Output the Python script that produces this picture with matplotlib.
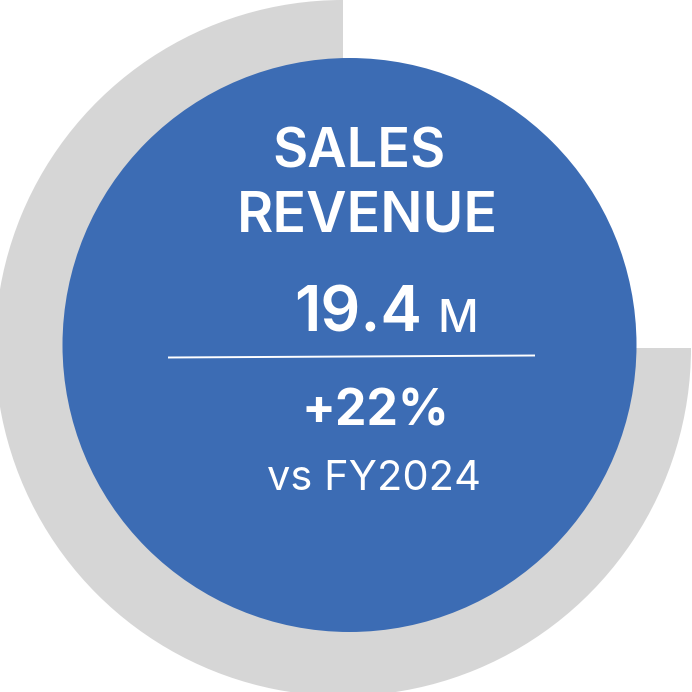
import matplotlib
matplotlib.use("Agg")
import matplotlib.pyplot as plt
from matplotlib.patches import Circle

# ---- data ----
title_lines = ["SALES", "REVENUE"]
value = 19.4
unit = "M"
change_pct = 22
comparison = "vs FY2024"
gauge_parts = [0.75, 0.25]   # filled share of the outer ring, remainder empty

GRAY = "#D6D6D6"
BLUE = "#3C6CB4"
W = H = 692

fig = plt.figure(figsize=(6.92, 6.92), dpi=100)
ax = fig.add_axes([0, 0, 1, 1])

def py(y):
    return H - y

ax.pie(gauge_parts, colors=[GRAY, "none"], startangle=90, counterclock=True,
       radius=348, center=(343, py(348)), wedgeprops=dict(linewidth=0))
ax.add_patch(Circle((349.5, py(345)), 287, color=BLUE, lw=0, zorder=3))

ax.plot([168, 535], [py(357.5), py(355.5)], color="white", lw=1.4, zorder=4,
        solid_capstyle="butt")

fam = ["Inter", "DejaVu Sans"]
ax.text(359, py(167), title_lines[0], ha="center", va="baseline", color="white",
        fontsize=39, fontweight="semibold", family=fam, zorder=5)
ax.text(367, py(232), title_lines[1], ha="center", va="baseline", color="white",
        fontsize=40, fontweight="semibold", family=fam, zorder=5)
ax.text(294, py(332), f"{value:.1f}", ha="left", va="baseline", color="white",
        fontsize=45, fontweight="semibold", family=fam, zorder=5)
ax.text(437, py(332), unit, ha="left", va="baseline", color="white",
        fontsize=32, fontweight="medium", family=fam, zorder=5)
ax.text(375, py(425), f"+{change_pct}%", ha="center", va="baseline", color="white",
        fontsize=36, fontweight="bold", family=fam, zorder=5)
ax.text(374, py(490), comparison, ha="center", va="baseline", color="white",
        fontsize=30, fontweight="normal", family=fam, zorder=5)

ax.set_xlim(0, W)
ax.set_ylim(0, H)
ax.set_aspect("equal")
ax.axis("off")
fig.savefig("out.png", dpi=100, facecolor="white")
